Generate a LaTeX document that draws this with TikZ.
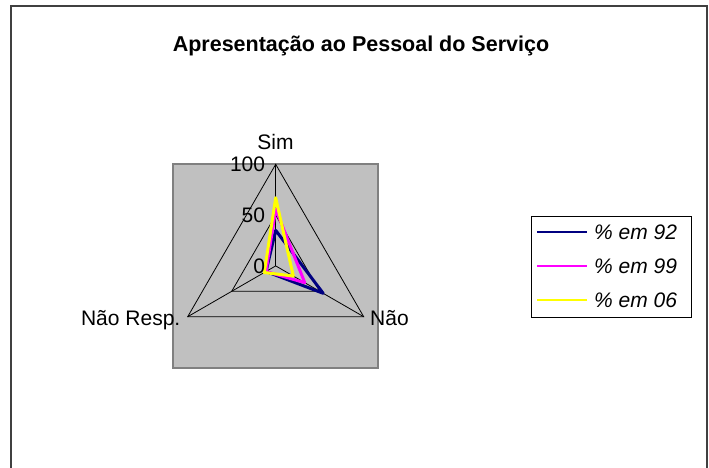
\documentclass[tikz,border=0pt]{standalone}
\usepackage{fontspec}
\setmainfont{Liberation Sans}
\usetikzlibrary{calc}
\definecolor{plotgray}{HTML}{C0C0C0}
\definecolor{framegray}{HTML}{808080}
\definecolor{navyser}{HTML}{000080}
\definecolor{magser}{HTML}{FF00FF}
\definecolor{yelser}{HTML}{FFFF00}
\begin{document}
\begin{tikzpicture}[x=1pt,y=1pt,
  lbl/.style={font=\fontsize{21}{25}\selectfont, inner sep=0pt},
  leglbl/.style={font=\fontsize{21}{25}\selectfont\itshape, inner sep=0pt, anchor=west},
  gridline/.style={draw=black, line width=0.8pt},
  series/.style={line width=3pt, line join=round},
  legline/.style={line width=2.2pt}]
\useasboundingbox (0,0) rectangle (709,467);
\fill[white] (0,0) rectangle (709,467);
% outer chart frame
\draw[line width=2pt, draw=black!75] (11,-5) -- (11,461) -- (707,461) -- (707,-5);
% title
\node[font=\fontsize{21.5}{25}\selectfont\bfseries, inner sep=0pt, anchor=base] (title) at (361,415.3) {Apresentação ao Pessoal do Serviço};
% plot area
\draw[fill=plotgray, draw=framegray, line width=1.6pt] (173,99) rectangle (378,303);
% radar geometry
\def\R{101.6}
\coordinate (C) at (275.7,201.1);
\coordinate (vS) at ($(C)+(90:\R)$);
\coordinate (vN) at ($(C)+(-30:\R)$);
\coordinate (vR) at ($(C)+(210:\R)$);
\coordinate (mS) at ($(C)!0.5!(vS)$);
\coordinate (mN) at ($(C)!0.5!(vN)$);
\coordinate (mR) at ($(C)!0.5!(vR)$);
\draw[gridline] (vS) -- (vN) -- (vR) -- cycle;
\draw[gridline] (mS) -- (mN) -- (mR) -- cycle;
\draw[gridline] (C) -- (vS);
\draw[gridline] (C) -- (vN);
\draw[gridline] (C) -- (vR);
% series
\draw[series, navyser] ($(C)!0.35!(vS)$) -- ($(C)!0.54!(vN)$) -- ($(C)!0.11!(vR)$) -- cycle;
\draw[series, magser] ($(C)!0.56!(vS)$) -- ($(C)!0.33!(vN)$) -- ($(C)!0.11!(vR)$) -- cycle;
\draw[series, yelser] ($(C)!0.67!(vS)$) -- ($(C)!0.20!(vN)$) -- ($(C)!0.13!(vR)$) -- cycle;
% tick labels
\node[lbl, anchor=east] (t100) at (vS -| 265.3,0) {100};
\node[lbl, anchor=east] (t50) at (mS -| 265.3,0) {50};
\node[lbl, anchor=east] (t0) at (C -| 265.3,0) {0};
% axis labels
\node[lbl, anchor=base] (sim) at (275.5,318) {Sim};
\node[lbl, anchor=base west] (nao) at (370,142) {Não};
\node[lbl, anchor=base east] (naoresp) at (180.5,142) {Não Resp.};
% legend
\draw[draw=black, line width=1pt] (531,150) rectangle (691,251);
\coordinate (a1) at (537.3,234.7); \coordinate (b1) at (586.7,234.7);
\coordinate (a2) at (537.3,201);   \coordinate (b2) at (586.7,201);
\coordinate (a3) at (537.3,167);   \coordinate (b3) at (586.7,167);
\draw[legline, navyser] (a1) -- (b1);
\draw[legline, magser] (a2) -- (b2);
\draw[legline, yelser] (a3) -- (b3);
\node[leglbl] (l1) at (594,234.7) {\% em 92};
\node[leglbl] (l2) at (594,201) {\% em 99};
\node[leglbl] (l3) at (594,167) {\% em 06};
\end{tikzpicture}
\end{document}
